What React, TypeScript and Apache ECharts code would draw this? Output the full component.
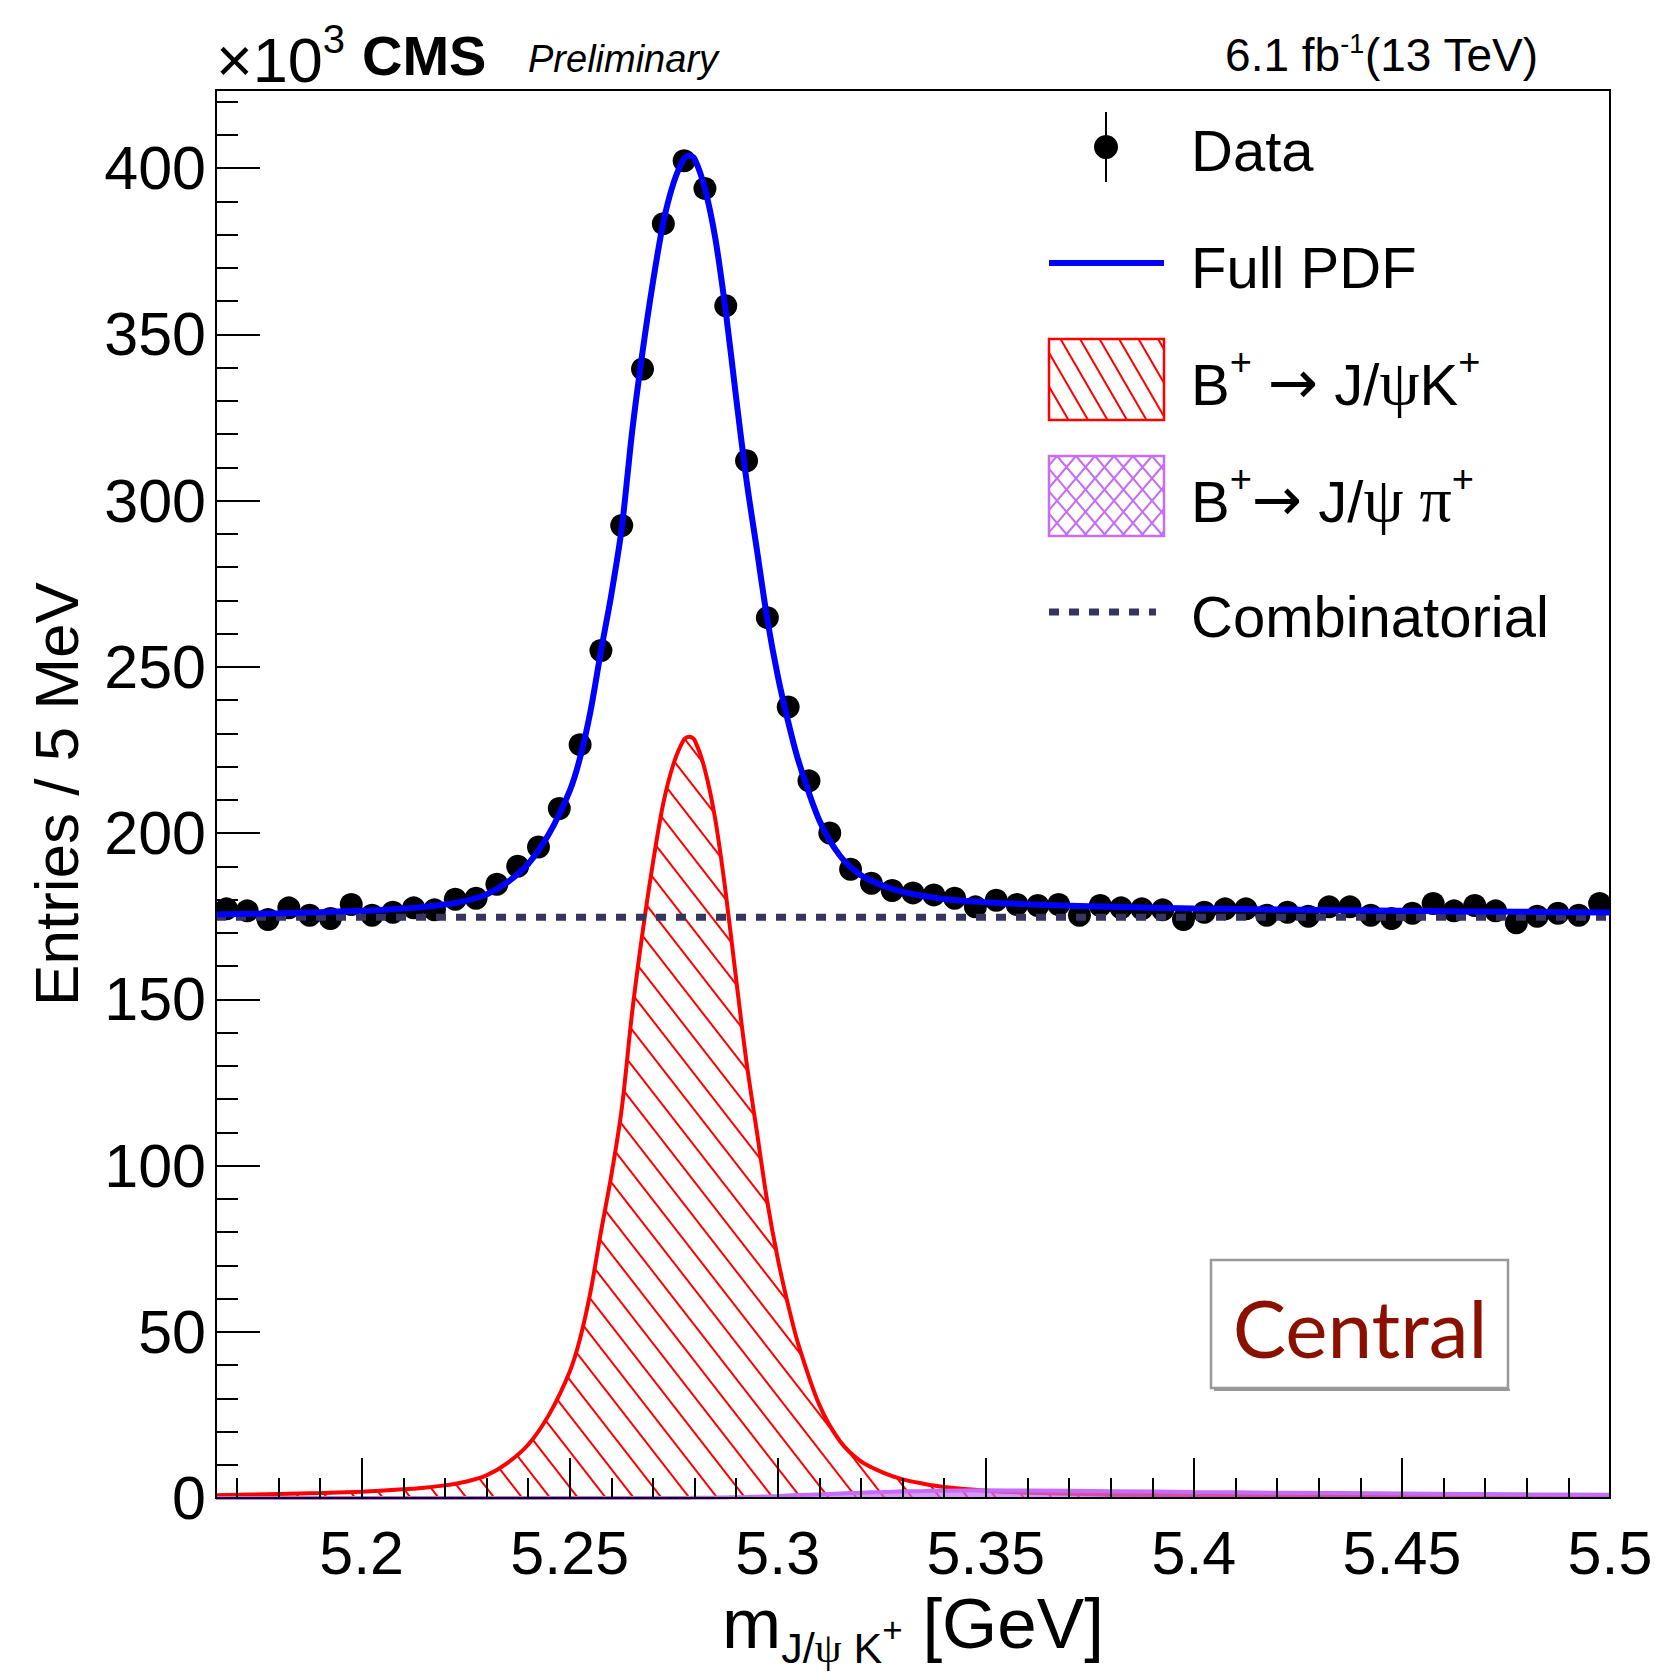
import React, { useEffect, useRef } from 'react';
import * as echarts from 'echarts';

const W = 1666;
const H = 1675;

// ---- data (values in units of 10^3 entries) ----
const dataX = [5.1675, 5.1725, 5.1775, 5.1825, 5.1875, 5.1925, 5.1975, 5.2025, 5.2075, 5.2125, 5.2175, 5.2225, 5.2275, 5.2325, 5.2375, 5.2425, 5.2475, 5.2525, 5.2575, 5.2625, 5.2675, 5.2725, 5.2775, 5.2825, 5.2875, 5.2925, 5.2975, 5.3025, 5.3075, 5.3125, 5.3175, 5.3225, 5.3275, 5.3325, 5.3375, 5.3425, 5.3475, 5.3525, 5.3575, 5.3625, 5.3675, 5.3725, 5.3775, 5.3825, 5.3875, 5.3925, 5.3975, 5.4025, 5.4075, 5.4125, 5.4175, 5.4225, 5.4275, 5.4325, 5.4375, 5.4425, 5.4475, 5.4525, 5.4575, 5.4625, 5.4675, 5.4725, 5.4775, 5.4825, 5.4875, 5.4925, 5.4975];
const dataY = [177.2, 176.6, 174.0, 177.5, 175.3, 174.3, 178.5, 175.3, 176.2, 177.5, 176.9, 180.1, 180.4, 184.6, 190.0, 195.8, 207.4, 226.6, 254.9, 292.5, 339.6, 383.3, 402.2, 393.9, 358.6, 312.0, 264.8, 237.9, 215.7, 200.0, 189.1, 184.9, 182.7, 182.0, 181.4, 180.4, 177.8, 179.8, 178.5, 178.2, 178.5, 175.3, 178.2, 177.5, 177.2, 176.9, 174.0, 176.2, 177.2, 177.2, 175.3, 176.2, 175.0, 177.8, 177.8, 175.3, 174.3, 175.9, 178.8, 176.6, 178.2, 176.6, 173.0, 175.0, 175.9, 175.3, 178.8];

const curveX = [5.165, 5.18, 5.19, 5.2, 5.21, 5.215, 5.22, 5.225, 5.23, 5.235, 5.24, 5.245, 5.25, 5.2525, 5.255, 5.2575, 5.26, 5.2625, 5.265, 5.2675, 5.27, 5.2725, 5.275, 5.2775, 5.27875, 5.28, 5.2825, 5.285, 5.2875, 5.29, 5.2925, 5.295, 5.2975, 5.3, 5.3025, 5.305, 5.31, 5.315, 5.32, 5.325, 5.33, 5.335, 5.34, 5.35, 5.36, 5.38, 5.4, 5.42, 5.45, 5.48, 5.5];
const signalY = [0.8, 1.2, 1.5, 1.9, 2.6, 3.1, 3.8, 4.9, 6.8, 10.5, 16, 25, 38, 48, 62, 80, 97, 117, 146, 170, 191, 209, 221, 228.2, 229, 228, 219, 204, 182, 156, 131, 110, 89, 72, 58, 46, 28, 17, 11, 7.8, 5.6, 4.3, 3.3, 2.2, 1.6, 1.0, 0.8, 0.7, 0.55, 0.45, 0.4];
const pionY = [0, 0, 0, 0, 0, 0, 0, 0, 0, 0, 0, 0, 0, 0, 0, 0, 0, 0, 0, 0, 0, 0, 0, 0, 0.03, 0.05, 0.08, 0.12, 0.17, 0.22, 0.3, 0.38, 0.48, 0.6, 0.75, 0.9, 1.1, 1.35, 1.6, 1.8, 2.0, 2.1, 2.2, 2.3, 2.25, 2.05, 1.8, 1.6, 1.35, 1.1, 0.95];
const fullY = [175.5, 175.9, 176.2, 176.6, 177.3, 177.8, 178.5, 179.6, 181.5, 185.2, 190.7, 199.7, 212.7, 222.7, 236.7, 254.7, 271.7, 291.7, 320.7, 344.7, 365.7, 383.7, 395.7, 402.9, 403.7, 402.8, 393.8, 378.8, 356.9, 330.9, 306.0, 285.1, 264.2, 247.3, 233.5, 221.6, 203.8, 193.1, 187.3, 184.3, 182.3, 181.1, 180.2, 179.2, 178.6, 177.8, 177.3, 177.0, 176.6, 176.3, 176.1];
const combX = [5.165, 5.5];
const combY = [174.7, 174.7];

const xMajorTicks = [5.2, 5.25, 5.3, 5.35, 5.4, 5.45, 5.5];
const xMinorTicks = [5.17, 5.18, 5.19, 5.21, 5.22, 5.23, 5.24, 5.26, 5.27, 5.28, 5.29, 5.31, 5.32, 5.33, 5.34, 5.36, 5.37, 5.38, 5.39, 5.41, 5.42, 5.43, 5.44, 5.46, 5.47, 5.48, 5.49];
const yMajorTicks = [0, 50, 100, 150, 200, 250, 300, 350, 400];
const yMinorTicks = [10, 20, 30, 40, 60, 70, 80, 90, 110, 120, 130, 140, 160, 170, 180, 190, 210, 220, 230, 240, 260, 270, 280, 290, 310, 320, 330, 340, 360, 370, 380, 390, 410, 420];

const X_MIN = 5.165;
const X_MAX = 5.5;
const Y_MIN = 0;
const Y_MAX = 423.5;

const SANS = "'Liberation Sans', Arial, Helvetica, sans-serif";
const SERIF = "'Liberation Serif', 'DejaVu Serif', serif";
const ARROW = "'DejaVu Sans', sans-serif";

const RED = '#ff0000';
const BLUE = '#0000ff';
const PURPLE = '#c66cf6';
const NAVY = '#35355f';

const zip = (xs: number[], ys: number[]) => xs.map((x, i) => [x, ys[i]]);

function hatch(x0: number, y0: number, w: number, h: number, step: number, slope: number, color: string, width: number) {
  const els: any[] = [];
  const span = Math.abs(slope) * h;
  for (let c = x0 - span - step; c <= x0 + w + span + step; c += step) {
    let t0 = 0;
    let t1 = h;
    if (slope !== 0) {
      let a = (x0 - c) / slope;
      let b = (x0 + w - c) / slope;
      if (a > b) { const tmp = a; a = b; b = tmp; }
      t0 = Math.max(t0, a);
      t1 = Math.min(t1, b);
    }
    if (t1 - t0 > 0.5) {
      els.push({
        type: 'line', silent: true,
        shape: { x1: c + slope * t0, y1: y0 + t0, x2: c + slope * t1, y2: y0 + t1 },
        style: { stroke: color, lineWidth: width },
      });
    }
  }
  return els;
}

function legendRich(F: number) {
  return {
    b: { fontSize: F, lineHeight: F, fontFamily: SANS, fill: '#000', verticalAlign: 'top', padding: [22, 0, 0, 0] },
    g: { fontSize: 64, lineHeight: 64, fontFamily: SERIF, fill: '#000', verticalAlign: 'top', padding: [17, 0, 0, 0] },
    a: { fontSize: F + 2, lineHeight: F + 2, fontFamily: ARROW, fill: '#000', verticalAlign: 'top', padding: [19, 0, 0, 0] },
    s: { fontSize: 38, lineHeight: 38, fontFamily: SANS, fill: '#000', verticalAlign: 'top', padding: [10, 0, 0, 0] },
  };
}

export default function App() {
  const ref = useRef<HTMLDivElement>(null);

  useEffect(() => {
    document.body.style.margin = '0';
    if (!ref.current) return;
    const chart = echarts.init(ref.current, undefined, { renderer: 'svg', width: W, height: H });

    const tickLine = { color: '#000', width: 2 };
    const legX = 1049;
    const legW = 115;
    const textX = 1191;

    const graphics: any[] = [
      // titles
      {
        type: 'text', x: 216, y: 6,
        style: {
          text: '{a|×10}{s|3}', align: 'left', verticalAlign: 'top',
          rich: {
            a: { fontSize: 63, lineHeight: 63, fontFamily: SANS, fill: '#000', verticalAlign: 'top', padding: [22, 0, 0, 0] },
            s: { fontSize: 40, lineHeight: 40, fontFamily: SANS, fill: '#000', verticalAlign: 'top', padding: [13, 0, 0, 0] },
          },
        },
      },
      { type: 'text', x: 362, y: 55, style: { text: 'CMS', fontSize: 56, fontWeight: 'bold', fontFamily: SANS, fill: '#000', align: 'left', verticalAlign: 'middle' } },
      { type: 'text', x: 528, y: 59, style: { text: 'Preliminary', fontSize: 38, fontStyle: 'italic', fontFamily: SANS, fill: '#000', align: 'left', verticalAlign: 'middle' } },
      {
        type: 'text', x: 1538, y: 18,
        style: {
          text: '{m|6.1 fb}{s|-1}{m|(13 TeV)}', align: 'right', verticalAlign: 'top',
          rich: {
            m: { fontSize: 46, lineHeight: 46, fontFamily: SANS, fill: '#000', verticalAlign: 'top', padding: [14, 0, 0, 0] },
            s: { fontSize: 27, lineHeight: 27, fontFamily: SANS, fill: '#000', verticalAlign: 'top', padding: [12, 0, 0, 0] },
          },
        },
      },
      // y axis title
      {
        type: 'text', x: 56, y: 794, rotation: Math.PI / 2,
        style: { text: 'Entries / 5 MeV', fontSize: 62, fontFamily: SANS, fill: '#000', align: 'center', verticalAlign: 'middle' },
      },
      // legend: Data
      { type: 'line', shape: { x1: 1106, y1: 112, x2: 1106, y2: 182 }, style: { stroke: '#000', lineWidth: 2 } },
      { type: 'circle', shape: { cx: 1106, cy: 147, r: 12 }, style: { fill: '#000' } },
      { type: 'text', x: textX, y: 150, style: { text: 'Data', fontSize: 58, fontFamily: SANS, fill: '#000', align: 'left', verticalAlign: 'middle' } },
      // legend: Full PDF
      { type: 'line', shape: { x1: legX, y1: 263, x2: legX + legW, y2: 263 }, style: { stroke: BLUE, lineWidth: 6 } },
      { type: 'text', x: textX, y: 267, style: { text: 'Full PDF', fontSize: 58, fontFamily: SANS, fill: '#000', align: 'left', verticalAlign: 'middle' } },
      // legend: signal
      ...hatch(legX, 339, legW, 81, 19.5, 0.58, RED, 2),
      { type: 'rect', shape: { x: legX, y: 339, width: legW, height: 81 }, style: { fill: 'none', stroke: RED, lineWidth: 2.5 } },
      {
        type: 'text', x: textX, y: 333,
        style: { text: '{b|B}{s|+}{b| }{a|→}{b| J/}{g|ψ}{b|K}{s|+}', align: 'left', verticalAlign: 'top', rich: legendRich(58) },
      },
      // legend: pion
      ...hatch(legX, 456, legW, 80, 19, 0.85, PURPLE, 2),
      ...hatch(legX, 456, legW, 80, 19, -0.85, PURPLE, 2),
      { type: 'rect', shape: { x: legX, y: 456, width: legW, height: 80 }, style: { fill: 'none', stroke: PURPLE, lineWidth: 2.5 } },
      {
        type: 'text', x: textX, y: 450,
        style: { text: '{b|B}{s|+}{a|→}{b| J/}{g|ψ π}{s|+}', align: 'left', verticalAlign: 'top', rich: legendRich(58) },
      },
      // legend: combinatorial
      { type: 'line', shape: { x1: legX, y1: 612, x2: legX + 107, y2: 612 }, style: { stroke: NAVY, lineWidth: 7, lineDash: [10, 10], lineCap: 'butt' } },
      { type: 'text', x: textX, y: 616, style: { text: 'Combinatorial', fontSize: 58, fontFamily: SANS, fill: '#000', align: 'left', verticalAlign: 'middle' } },
      // region box
      { type: 'line', shape: { x1: 1214, y1: 1390, x2: 1510, y2: 1390 }, style: { stroke: '#9a9a9a', lineWidth: 2 } },
      { type: 'rect', shape: { x: 1211, y: 1260, width: 297, height: 128 }, style: { fill: '#fff', stroke: '#999999', lineWidth: 2.5 } },
      { type: 'text', x: 1360, y: 1327, style: { text: 'Central', fontSize: 80, fontFamily: "Lato, 'Open Sans', sans-serif", fill: '#8a1100', align: 'center', verticalAlign: 'middle' } },
    ];

    const xName = '{m|m}{sub|J/}{psi|ψ}{sub| K}{sup|+}{m| [GeV]}';

    const option: any = {
      animation: false,
      backgroundColor: '#ffffff',
      grid: { left: 216, right: 56, top: 90, bottom: 177, show: true, borderColor: '#000', borderWidth: 2, backgroundColor: 'rgba(0,0,0,0)' },
      xAxis: [
        {
          type: 'value', min: X_MIN, max: X_MAX, position: 'bottom', z: 10,
          axisLine: { show: true, onZero: false, lineStyle: tickLine },
          axisTick: { show: true, inside: true, length: 40, lineStyle: tickLine, customValues: xMajorTicks },
          axisLabel: { show: true, customValues: xMajorTicks, fontSize: 61, fontFamily: SANS, color: '#000', margin: 24, formatter: (v: number) => String(v) },
          splitLine: { show: false },
          name: xName, nameLocation: 'middle', nameGap: 90,
          nameTextStyle: {
            align: 'center', verticalAlign: 'top', color: '#000',
            rich: {
              m: { fontSize: 71, lineHeight: 71, fontFamily: SANS, color: '#000', verticalAlign: 'top', padding: [0, 0, 0, 0] },
              sub: { fontSize: 43, lineHeight: 43, fontFamily: SANS, color: '#000', verticalAlign: 'top', padding: [38, 0, 0, 0] },
              psi: { fontSize: 43, lineHeight: 43, fontFamily: SERIF, color: '#000', verticalAlign: 'top', padding: [38, 0, 0, 0] },
              sup: { fontSize: 35, lineHeight: 35, fontFamily: SANS, color: '#000', verticalAlign: 'top', padding: [24, 0, 0, 0] },
            },
          },
        },
        {
          type: 'value', min: X_MIN, max: X_MAX, position: 'bottom', z: 10,
          axisLine: { show: false },
          axisTick: { show: true, inside: true, length: 20, lineStyle: tickLine, customValues: xMinorTicks },
          axisLabel: { show: false },
          splitLine: { show: false },
        },
      ],
      yAxis: [
        {
          type: 'value', min: Y_MIN, max: Y_MAX, position: 'left', z: 10,
          axisLine: { show: true, onZero: false, lineStyle: tickLine },
          axisTick: { show: true, inside: true, length: 44, lineStyle: tickLine, customValues: yMajorTicks },
          axisLabel: { show: true, customValues: yMajorTicks, fontSize: 61, fontFamily: SANS, color: '#000', margin: 10 },
          splitLine: { show: false },
        },
        {
          type: 'value', min: Y_MIN, max: Y_MAX, position: 'left', z: 10,
          axisLine: { show: false },
          axisTick: { show: true, inside: true, length: 22, lineStyle: tickLine, customValues: yMinorTicks },
          axisLabel: { show: false },
          splitLine: { show: false },
        },
      ],
      series: [
        {
          name: 'B+ → J/ψK+', type: 'line', data: zip(curveX, signalY), symbol: 'none', showSymbol: false,
          smooth: 0.3, z: 2,
          lineStyle: { color: RED, width: 4 },
          itemStyle: {
            color: RED,
            decal: { symbol: 'rect', symbolSize: 1, color: RED, backgroundColor: null, dashArrayX: [1, 0], dashArrayY: [2, 20], rotation: 0.91 },
          },
          areaStyle: { color: 'rgba(255,255,255,0)', opacity: 1, origin: 'start' },
        },
        {
          name: 'B+→ J/ψ π+', type: 'line', data: zip(curveX, pionY), symbol: 'none', showSymbol: false,
          smooth: 0.3, z: 3,
          lineStyle: { color: PURPLE, width: 4 },
          itemStyle: { color: PURPLE },
          areaStyle: { color: PURPLE, opacity: 0.7, origin: 'start' },
        },
        {
          name: 'Data', type: 'scatter', data: zip(dataX, dataY), symbol: 'circle', symbolSize: 23, z: 4,
          itemStyle: { color: '#000', opacity: 1 },
        },
        {
          name: 'Combinatorial', type: 'line', data: zip(combX, combY), symbol: 'none', showSymbol: false, z: 5,
          lineStyle: { color: NAVY, width: 7, type: [10, 10], cap: 'butt' },
        },
        {
          name: 'Full PDF', type: 'line', data: zip(curveX, fullY), symbol: 'none', showSymbol: false,
          smooth: 0.3, z: 6,
          lineStyle: { color: BLUE, width: 6 },
          itemStyle: { color: BLUE },
        },
      ],
      graphic: { elements: graphics },
    };

    chart.setOption(option);
    return () => chart.dispose();
  }, []);

  return <div ref={ref} style={{ width: W, height: H, background: '#fff' }} />;
}
